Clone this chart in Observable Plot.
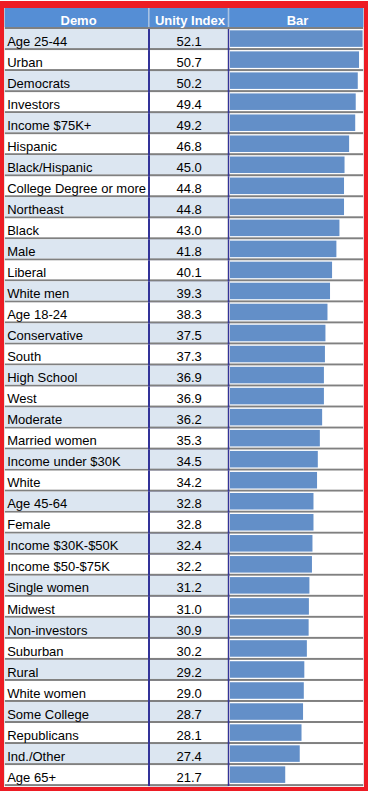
<!DOCTYPE html>
<html>
<head>
<meta charset="utf-8">
<script src="https://cdn.jsdelivr.net/npm/d3@7"></script>
<script src="https://cdn.jsdelivr.net/npm/@observablehq/plot@0.6"></script>
<style>
  html, body { margin: 0; padding: 0; background: #ffffff; }
  #wrap { position: relative; width: 369px; height: 791px; overflow: hidden; background: #ffffff; }
  #wrap svg { position: absolute; left: 0; top: 0; }
  #redframe { position: absolute; left: 0; top: 1px; width: 367.7px; height: 791px; box-sizing: border-box;
    border-style: solid; border-color: #ED1C24; border-width: 7px 4.4px 5px 4.7px; pointer-events: none; }
</style>
</head>
<body>
<div id="wrap"><div id="redframe"></div></div>
<script>
// ---- data ----
const headers = ["Demo", "Unity Index", "Bar"];
const demos = ["Age 25-44","Urban","Democrats","Investors","Income $75K+","Hispanic","Black/Hispanic",
  "College Degree or more","Northeast","Black","Male","Liberal","White men","Age 18-24","Conservative",
  "South","High School","West","Moderate","Married women","Income under $30K","White","Age 45-64",
  "Female","Income $30K-$50K","Income $50-$75K","Single women","Midwest","Non-investors","Suburban",
  "Rural","White women","Some College","Republicans","Ind./Other","Age 65+"];
const values = [52.1,50.7,50.2,49.4,49.2,46.8,45.0,44.8,44.8,43.0,41.8,40.1,39.3,38.3,37.5,37.3,36.9,
  36.9,36.2,35.3,34.5,34.2,32.8,32.8,32.4,32.2,31.2,31.0,30.9,30.2,29.2,29.0,28.7,28.1,27.4,21.7];

// ---- styling ----
const C = {
  header: "#558ED5", headerSep: "#A7C2E4", light: "#DCE6F1", grid: "#808080",
  navy: "#333399", bar: "#638FC8", text: "#000000"
};
const FONT = "'Liberation Sans', Arial, sans-serif";
const W = 369, H = 791;
const HEAD = "__header__";

const rows = demos.map((d, i) => ({demo: d, value: values[i], idx: i}));
const lightRows = rows.filter(r => r.idx % 2 === 0);
const whiteRows = rows.filter(r => r.idx % 2 === 1);
const bands = [HEAD, ...demos];
const headRow = (label) => [{key: HEAD, label}];

function yScale() {
  return {type: "band", domain: bands, range: [8, 786.1], padding: 0, round: false, axis: null};
}
function panel(left, right, marks, x) {
  const opts = {
    width: W, height: H,
    marginLeft: left, marginRight: W - right, marginTop: 8, marginBottom: H - 786.1,
    y: yScale(),
    style: {background: "transparent", fontFamily: FONT, fontSize: "13px", color: C.text},
    marks
  };
  if (x) opts.x = x;
  return Plot.plot(opts);
}
const headText = (label, dx = 0) => Plot.text(headRow(label), {
  y: "key", text: "label", frameAnchor: "middle", fill: "white", fontWeight: "bold",
  fontSize: 13, fontFamily: FONT, dy: 1.5, dx
});

// A: full table background with grey row rules and header fill
const A = panel(4.7, 363.3, [
  Plot.cell(bands, {y: d => d, fill: C.grid}),
  Plot.cell(demos, {y: d => d, fill: "white", insetBottom: 2}),
  Plot.cell([HEAD], {y: d => d, fill: C.header, insetBottom: 2})
]);

// B: Demo column
const B = panel(4.7, 148, [
  Plot.cell(lightRows, {y: "demo", fill: C.light, insetBottom: 2}),
  Plot.text(rows, {y: "demo", text: "demo", frameAnchor: "left", textAnchor: "start",
    dx: 2, dy: 1.5, fill: C.text, fontSize: 13, fontFamily: FONT}),
  headText(headers[0], 1.7)
]);

// C: Unity Index column (with navy side rules)
const C2 = panel(148, 229.3, [
  Plot.cell(rows, {y: "demo", fill: C.navy}),
  Plot.cell(rows, {y: "demo", fill: C.grid, insetLeft: 2, insetRight: 1.6}),
  Plot.cell(lightRows, {y: "demo", fill: C.light, insetLeft: 2, insetRight: 1.6, insetBottom: 2}),
  Plot.cell(whiteRows, {y: "demo", fill: "white", insetLeft: 2, insetRight: 1.6, insetBottom: 2}),
  Plot.cell([HEAD], {y: d => d, fill: C.headerSep, insetBottom: 2}),
  Plot.cell([HEAD], {y: d => d, fill: C.header, insetLeft: 1.6, insetRight: 1.6, insetBottom: 2}),
  Plot.text(rows, {y: "demo", text: d => d.value.toFixed(1), frameAnchor: "middle",
    dy: 1.5, fill: C.text, fontSize: 13, fontFamily: FONT}),
  headText(headers[1], 0.8)
]);

// D: Bar column
const D = panel(229.3, 363.3, [
  Plot.barX(rows, {y: "demo", x: "value", fill: C.bar, insetTop: 1.3, insetBottom: 3.2}),
  headText(headers[2], 0.7)
], {domain: [0, 52.1], range: [230, 362.6], axis: null});

const wrap = document.getElementById("wrap");
const red = document.getElementById("redframe");
for (const s of [A, B, C2, D]) wrap.insertBefore(s, red);
</script>
</body>
</html>
